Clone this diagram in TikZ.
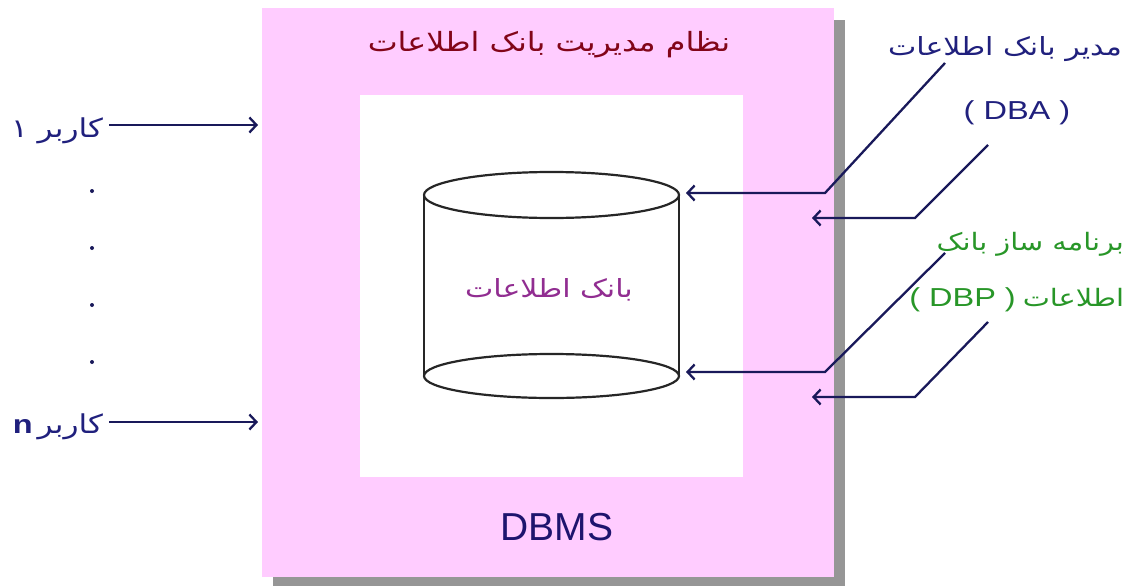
\documentclass[tikz,border=0pt]{standalone}
\usepackage{fontspec}
\setmainfont{Liberation Sans}
\newfontfamily\arabicfont[Script=Arabic]{DejaVu Sans}
\TeXXeTstate=1
\usetikzlibrary{arrows.meta}
\definecolor{pinkfill}{RGB}{255,204,255}
\definecolor{shadowgrey}{RGB}{150,150,150}
\definecolor{navytext}{RGB}{32,32,125}
\definecolor{navyline}{RGB}{25,25,90}
\definecolor{dbmsblue}{RGB}{30,20,110}
\definecolor{titlered}{RGB}{130,5,25}
\definecolor{dbpurple}{RGB}{145,45,145}
\definecolor{dbpgreen}{RGB}{40,150,40}
\newcommand{\wide}[1]{\scalebox{1.2}[1]{#1}}
\newcommand{\widelat}[1]{\scalebox{1.25}[1]{#1}}
\begin{document}
\begin{tikzpicture}[x=1pt,y=-1pt,
  conn/.style={draw=navyline,line width=2.3pt,-{Straight Barb[length=7pt,width=15pt,line width=2.3pt]}},
  lbl/.style={inner sep=0pt,outer sep=0pt},
  cylline/.style={draw=black!85,line width=2.2pt}]
\useasboundingbox (0,0) rectangle (1132,586);
% boxes
\fill[shadowgrey] (273,20) rectangle (845,586);
\fill[pinkfill] (262,8) rectangle (834,577);
\fill[white] (360,95) rectangle (743,477);
% cylinder
\draw[cylline] (424,195) -- (424,376);
\draw[cylline] (679,195) -- (679,376);
\draw[cylline,fill=white] (551.5,195) ellipse [x radius=127.5,y radius=23];
\draw[cylline] (551.5,376) ellipse [x radius=127.5,y radius=22];
\coordinate (dbtop) at (686,193);
\coordinate (dbbot) at (686,372);
% texts
\node[lbl,text=titlered,font=\arabicfont\fontsize{26.5}{30}\selectfont] (title) at (549,45) {\wide{\beginR نظام مدیریت بانک اطلاعات\endR}};
\node[lbl,text=dbpurple,font=\arabicfont\fontsize{25}{29}\selectfont] (dbtext) at (549,290) {\wide{\beginR بانک اطلاعات\endR}};
\node[lbl,text=dbmsblue,font=\fontsize{39}{44}\selectfont] (dbms) at (557,527) {DBMS};
% users
\node[lbl,anchor=east,text=navytext,font=\arabicfont\fontsize{26}{30}\selectfont] (user1) at (103,131) {\wide{\beginR کاربر ۱\endR}};
\node[lbl,anchor=east,text=navytext,font=\fontsize{26}{30}\selectfont] (usern) at (103,427) {\widelat{\textbf{n}}\hspace{5pt}{\arabicfont\wide{\beginR کاربر\endR}}};
\coordinate (in1) at (258,125);
\coordinate (inn) at (258,422);
\draw[conn] (109,125) -- (in1);
\draw[conn] (109,422) -- (inn);
\foreach \i/\yy in {1/191,2/248,3/305,4/362}
  \fill[navyline] (92,\yy) circle [radius=2pt] coordinate (dot\i);
% right side
\node[lbl,anchor=east,text=navytext,font=\arabicfont\fontsize{25}{29}\selectfont] (dba) at (1122,49) {\wide{\beginR مدیر بانک اطلاعات\endR}};
\node[lbl,text=navytext,font=\fontsize{26}{30}\selectfont] (dbaabbr) at (1017,113) {\widelat{( DBA )}};
\node[lbl,anchor=east,text=dbpgreen,font=\arabicfont\fontsize{24}{28}\selectfont] (dbp) at (1124,244) {\wide{\beginR برنامه ساز بانک\endR}};
\node[lbl,anchor=east,text=dbpgreen,font=\fontsize{26}{30}\selectfont] (dbpabbr) at (1124,300) {\widelat{( DBP )}\hspace{7pt}{\arabicfont\fontsize{24}{28}\selectfont\wide{\beginR اطلاعات\endR}}};
\coordinate (a1s) at (945,63);
\coordinate (a2s) at (988,145);
\coordinate (a3s) at (945,253);
\coordinate (a4s) at (988,322);
\coordinate (box1) at (812,218);
\coordinate (box2) at (812,397);
\draw[conn] (a1s) -- (825,193) -- (dbtop);
\draw[conn] (a2s) -- (915,218) -- (box1);
\draw[conn] (a3s) -- (825,372) -- (dbbot);
\draw[conn] (a4s) -- (915,397) -- (box2);
\end{tikzpicture}
\end{document}
